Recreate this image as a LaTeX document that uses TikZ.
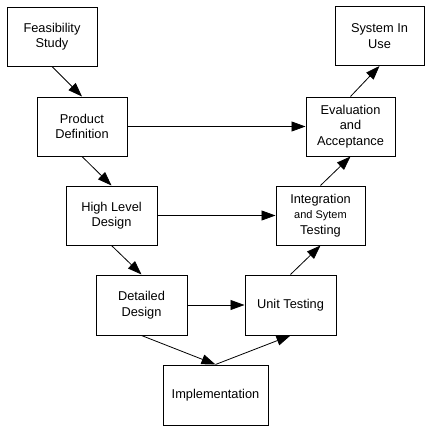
\documentclass[tikz,border=0pt]{standalone}
\usepackage{fontspec}
\setmainfont{Liberation Sans}
\usetikzlibrary{arrows.meta}

\begin{document}
\begin{tikzpicture}[x=1pt,y=-1pt,
    stage/.style={rectangle, draw, line width=1pt, minimum width=90pt, minimum height=59pt, inner sep=0pt, align=center, font=\fontsize{12.8}{15.5}\selectfont},
    flow/.style={-{Triangle[length=14pt,width=10pt]}, line width=0.8pt}]
    \useasboundingbox (0,0) rectangle (432,431);
    % left branch
    \node[stage] (FS) at (52,36.5) {Feasibility\\Study};
    \node[stage] (PD) at (82,126.5) {Product\\Definition};
    \node[stage, minimum width=91pt] (HL) at (111.5,215.5) {High Level\\Design};
    \node[stage, minimum width=91pt, minimum height=60pt] (DD) at (141.5,305) {Detailed\\Design};
    % bottom
    \node[stage, minimum width=105pt, minimum height=60pt] (IM) at (215.5,395) {Implementation};
    % right branch
    \node[stage, minimum width=91pt, minimum height=60pt] (UT) at (290.5,305) {Unit Testing};
    \node[stage, minimum width=89pt] (IT) at (320.5,215.5) {Integration\\{\fontsize{11}{15.5}\selectfont and Sytem}\\Testing};
    \node[stage, minimum width=89pt] (EA) at (350.5,126.5) {Evaluation\\and\\Acceptance};
    \node[stage, minimum width=89pt] (SU) at (379.5,36) {System In\\Use};

    \draw[flow] (FS.south) -- (PD.north);
    \draw[flow] (PD.south) -- (HL.north);
    \draw[flow] (HL.south) -- (DD.north);
    \draw[flow] (DD.south) -- (IM.north);
    \draw[flow] (IM.north) -- (UT.south);
    \draw[flow] (UT.north) -- (IT.south);
    \draw[flow] (IT.north) -- (EA.south);
    \draw[flow] (EA.north) -- (SU.south);

    \draw[flow] (PD.east) -- (EA.west);
    \draw[flow] (HL.east) -- (IT.west);
    \draw[flow] (DD.east) -- (UT.west);
\end{tikzpicture}
\end{document}
